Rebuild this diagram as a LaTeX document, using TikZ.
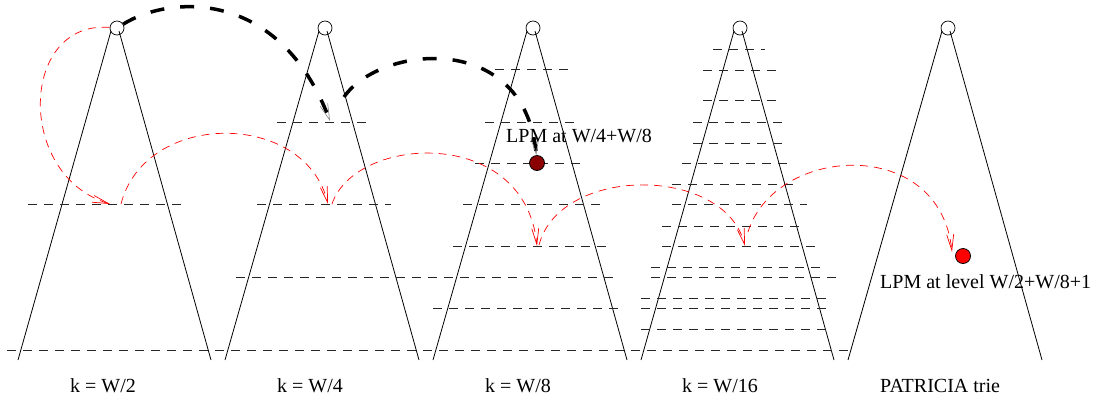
\documentclass[tikz,border=0pt]{standalone}
\usepackage{fontspec}
\setmainfont{Liberation Serif}
\usetikzlibrary{arrows.meta}
\definecolor{lpmdark}{RGB}{139,0,0}
\begin{document}
\begin{tikzpicture}[x=1pt,y=-1pt,
  leg/.style={line width=0.8pt},
  level/.style={line width=0.8pt, dash pattern=on 9pt off 7pt, black!85},
  root/.style={circle, draw, line width=0.7pt, minimum size=14pt, inner sep=0pt},
  jump/.style={line width=3.5pt, dash pattern=on 14pt off 16pt, -{Straight Barb[length=16pt,width=8pt,line width=0.6pt,color=gray]}},
  probe/.style={red, line width=0.7pt, dash pattern=on 8pt off 6pt, -{Straight Barb[length=16pt,width=7pt,line width=0.7pt]}},
  lbl/.style={font=\fontsize{20}{24}\selectfont, inner sep=0pt, anchor=base west},
  dot/.style={circle, draw, line width=0.8pt, minimum size=15pt, inner sep=0pt}]
\useasboundingbox (0,0) rectangle (1102,400);

% triangles
\foreach \cx/\l/\r in {117/18/211, 325/225/419, 533/433/627, 740/641/834, 948/848/1042}{
  \draw[leg] (\cx-6,31) -- (\l,360);
  \draw[leg] (\cx+2,31) -- (\r,360);
}

% level lines
\draw[level] (28,204) -- (186,204);
\draw[level] (277,122) -- (369,122);
\draw[level] (257,204) -- (391,204);
\draw[level] (236,277) -- (620,277);
\draw[level] (433,308) -- (620,308);
\draw[level] (495,69) -- (568,69);
\draw[level] (485,122) -- (577,122);
\draw[level] (475,163) -- (582,163);
\draw[level] (463,204) -- (600,204);
\draw[level] (453,246) -- (610,246);
\draw[level] (713,49) -- (765,49);
\draw[level] (703,70) -- (777,70);
\draw[level] (703,100) -- (778,100);
\draw[level] (693,122) -- (785,122);
\draw[level] (693,143) -- (785,143);
\draw[level] (682,163) -- (791,163);
\draw[level] (672,184) -- (797,184);
\draw[level] (672,204) -- (807,204);
\draw[level] (662,226) -- (803,226);
\draw[level] (662,246) -- (818,246);
\draw[level] (651,267) -- (826,267);
\draw[level] (651,277) -- (838,277);
\draw[level] (641,298) -- (828,298);
\draw[level] (641,308) -- (828,308);
\draw[level] (641,329) -- (832,329);
\draw[level] (7,350) -- (850,350);

% roots
\node[root] (r1) at (117,28) {};
\node[root] (r2) at (325,28) {};
\node[root] (r3) at (533,28) {};
\node[root] (r4) at (740,28) {};
\node[root] (r5) at (948,28) {};

% LPM dots
\node[dot, fill=lpmdark] (d1) at (537,163) {};
\node[dot, fill=red] (d2) at (963,256) {};

% coordinates
\coordinate (j1) at (330,121);
\coordinate (j1s) at (344,97);
\coordinate (p1) at (110,204);
\coordinate (q1) at (121,204);
\coordinate (p2) at (328,204);
\coordinate (q2) at (332,204);
\coordinate (p3) at (537,246);
\coordinate (q3) at (539,245);
\coordinate (p4) at (745,246);
\coordinate (q4) at (748,232);
\coordinate (p5) at (952,252);

% black jumps
\draw[jump] (r1) .. controls (170,-5) and (280,-12) .. (j1);
\draw[jump] (j1s) .. controls (380,45) and (525,30) .. (d1);

% red probes
\draw[probe] (r1) .. controls (20,20) and (15,175) .. (p1);
\draw[probe] (q1) .. controls (145,110) and (305,110) .. (p2);
\draw[probe] (q2) .. controls (355,135) and (525,125) .. (p3);
\draw[probe] (q3) .. controls (560,165) and (725,165) .. (p4);
\draw[probe] (q4) .. controls (775,145) and (940,135) .. (p5);

% labels
\node[lbl] (t1) at (506,142) {LPM at W/4+W/8};
\node[lbl] (t2) at (880,288) {LPM at level W/2+W/8+1};
\node[lbl] (k1) at (70,392) {k = W/2};
\node[lbl] (k2) at (277,392) {k = W/4};
\node[lbl] (k3) at (485,392) {k = W/8};
\node[lbl] (k4) at (682,392) {k = W/16};
\node[lbl] (k5) at (880,392) {PATRICIA trie};
\end{tikzpicture}
\end{document}
